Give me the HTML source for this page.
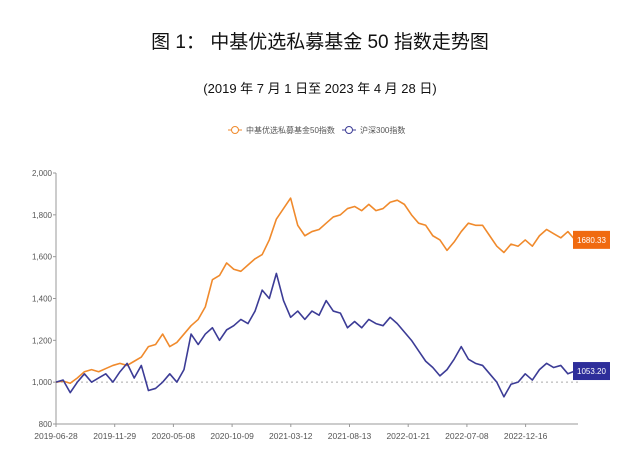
<!DOCTYPE html>
<html><head><meta charset="utf-8"><style>
body{margin:0;background:#fff;width:640px;height:460px;overflow:hidden;font-family:"Liberation Sans","Noto Sans CJK SC",sans-serif}
.t{position:absolute;left:0;width:640px;text-align:center;color:#111}
</style></head><body>
<div class="t" style="top:27px;font-size:19px;font-family:'Liberation Sans','Noto Sans CJK SC',sans-serif">图 1： 中基优选私募基金 50 指数走势图</div>
<div class="t" style="top:78px;font-size:13px">(2019 年 7 月 1 日至 2023 年 4 月 28 日)</div>
<svg id="c" width="640" height="460" style="position:absolute;left:0;top:0"></svg>
<script>
const dates=["2019-06-28","2019-11-29","2020-05-08","2020-10-09","2021-03-12","2021-08-13","2022-01-21","2022-07-08","2022-12-16"];
const yTicks=[800,1000,1200,1400,1600,1800,2000];
const yTickLabels=["800","1,000","1,200","1,400","1,600","1,800","2,000"];
const fundValues=[1000,1005,995,1020,1050,1060,1050,1065,1080,1090,1080,1100,1120,1170,1180,1230,1170,1190,1230,1270,1300,1360,1490,1510,1570,1540,1530,1560,1590,1610,1680,1780,1830,1880,1750,1700,1720,1730,1760,1790,1800,1830,1840,1820,1850,1820,1830,1860,1870,1850,1800,1760,1750,1700,1680,1630,1670,1720,1760,1750,1750,1700,1650,1620,1660,1650,1680,1650,1700,1730,1710,1690,1720,1680.33];
const csiValues=[1000,1010,950,1000,1040,1000,1020,1040,1000,1050,1090,1020,1080,960,970,1000,1040,1000,1060,1230,1180,1230,1260,1200,1250,1270,1300,1280,1340,1440,1400,1520,1390,1310,1340,1300,1340,1320,1390,1340,1330,1260,1290,1260,1300,1280,1270,1310,1280,1240,1200,1150,1100,1070,1030,1060,1110,1170,1110,1090,1080,1040,1000,930,990,1000,1040,1010,1060,1090,1070,1080,1040,1053.2];
const svg=document.getElementById('c'),NS='http://www.w3.org/2000/svg';
const X0=56,X1=575,Y0=424,Y1=173;
const y=v=>Y0-(v-800)/(1200)*(Y0-Y1);
const x=i=>X0+i*(X1-X0)/(fundValues.length-1);
function mk(t,a,p){const e=document.createElementNS(NS,t);for(const k in a)e.setAttribute(k,a[k]);(p||svg).appendChild(e);return e;}
let e=mk('line',{x1:X0,y1:Y1,x2:X0,y2:Y0,stroke:'#999'});

e=mk('line',{x1:X0,y1:Y0,x2:X1+3,y2:Y0,stroke:'#999'});

e=mk('line',{x1:X0,y1:y(1000),x2:X1+3,y2:y(1000),stroke:'#aaa','stroke-dasharray':'2,3'});

yTicks.forEach((v,k)=>{const l=mk('text',{x:X0-4,y:y(v)+3,'font-size':8,'text-anchor':'end',fill:'#555'});l.textContent=yTickLabels[k];

mk('line',{x1:X0-3,y1:y(v),x2:X0,y2:y(v),stroke:'#999'});});
dates.forEach((d,k)=>{const px=X0+k*58.7;mk('line',{x1:px,y1:Y0,x2:px,y2:Y0+3,stroke:'#999'});
const l=mk('text',{x:px,y:Y0+15,'font-size':8.5,'text-anchor':'middle',fill:'#555'});l.textContent=d;
});
function line(vals,col,name){const p=mk('polyline',{points:vals.map((v,i)=>x(i)+','+y(v)).join(' '),fill:'none',stroke:col,'stroke-width':1.6,'stroke-linejoin':'round'});
}
line(fundValues,'#f08a2c','fund-index-line');line(csiValues,'#3c3c96','csi300-line');
function badge(v,col,name){const yy=y(v);const r=mk('rect',{x:573,y:yy-9,width:37,height:18,fill:col});

const t=mk('text',{x:591.5,y:yy+3,'font-size':8,'text-anchor':'middle',fill:'#fff'});t.textContent=v.toFixed(2);}
badge(fundValues[fundValues.length-1],'#f06a10','fund-end-label');badge(csiValues[csiValues.length-1],'#2e2e9a','csi-end-label');
function leg(x0,col,txt,name){const g=mk('g',{});
mk('line',{x1:x0,y1:130,x2:x0+14,y2:130,stroke:col,'stroke-width':1},g);mk('circle',{cx:x0+7,cy:130,r:3.5,fill:'#fff',stroke:col},g);
const t=mk('text',{x:x0+18,y:133,'font-size':8,fill:'#555'},g);t.textContent=txt;}
leg(228,'#f08a2c','中基优选私募基金50指数','legend-fund');leg(342,'#3c3c96','沪深300指数','legend-csi300');
</script>
</body></html>
